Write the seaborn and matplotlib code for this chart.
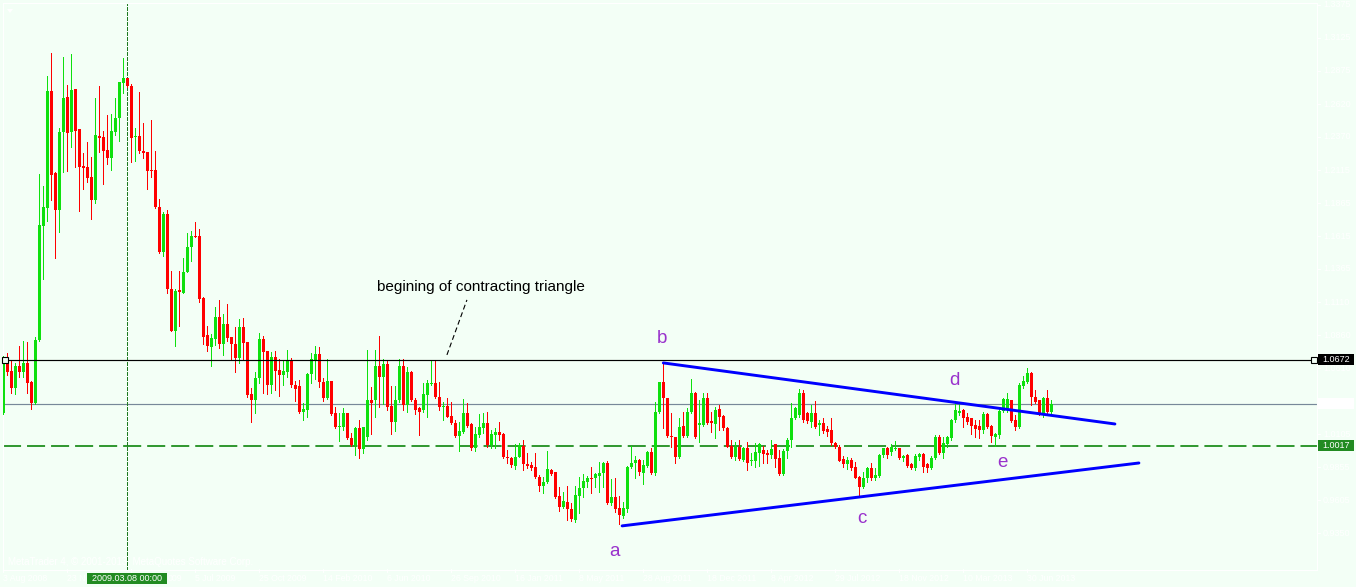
import numpy as np
import pandas as pd
import matplotlib
matplotlib.use("Agg")
import matplotlib.pyplot as plt
import matplotlib.transforms as mtransforms
from matplotlib.patches import Rectangle, Polygon
import seaborn as sns

# ---------------------------------------------------------------
# Weekly bars, first bar = week of 3 Aug 2008
# ---------------------------------------------------------------
open_ = [
    1.0268, 1.0664, 1.0587, 1.0458, 1.0626, 1.0580, 1.0649, 1.0504, 1.0344, 1.0824,
    1.1692, 1.1829, 1.2720, 1.2095, 1.1814, 1.2408, 1.2675, 1.2408, 1.2735, 1.2430,
    1.2149, 1.2142, 1.2065, 1.1890, 1.2377, 1.2370, 1.2271, 1.2210, 1.2408, 1.2514,
    1.2781, 1.2819, 1.2758, 1.2370, 1.2377, 1.2263, 1.2256, 1.2118, 1.2118, 1.1837,
    1.1494, 1.1784, 1.1212, 1.0892, 1.1205, 1.1182, 1.1342, 1.1532, 1.1616, 1.1616,
    1.1144, 1.0862, 1.0771, 1.0831, 1.0999, 1.0794, 1.0946, 1.0847, 1.0794, 1.0687,
    1.0923, 1.0809, 1.0413, 1.0367, 1.0534, 1.0831, 1.0740, 1.0481, 1.0695, 1.0595,
    1.0557, 1.0580, 1.0664, 1.0481, 1.0473, 1.0276, 1.0291, 1.0565, 1.0672, 1.0718,
    1.0504, 1.0382, 1.0511, 1.0268, 1.0162, 1.0162, 1.0268, 1.0078, 1.0024, 1.0154,
    0.9993, 1.0086, 1.0367, 1.0367, 1.0626, 1.0542, 1.0642, 1.0321, 1.0200, 1.0367,
    1.0626, 1.0329, 1.0580, 1.0367, 1.0306, 1.0291, 1.0405, 1.0489, 1.0496, 1.0390,
    1.0314, 1.0321, 1.0246, 1.0192, 1.0093, 1.0124, 1.0268, 1.0184, 1.0001, 1.0101,
    1.0154, 1.0192, 1.0024, 1.0101, 1.0124, 1.0109, 0.9933, 0.9925, 0.9864, 0.9933,
    1.0016, 0.9879, 0.9872, 0.9857, 0.9781, 0.9712, 0.9743, 0.9834, 0.9819, 0.9636,
    0.9553, 0.9591, 0.9537, 0.9453, 0.9636, 0.9697, 0.9743, 0.9773, 0.9773, 0.9788,
    0.9811, 0.9887, 0.9583, 0.9629, 0.9545, 0.9484, 0.9537, 0.9857, 0.9887, 0.9910,
    0.9811, 0.9864, 0.9971, 0.9811, 1.0276, 1.0504, 1.0382, 1.0093, 1.0086, 0.9933,
    1.0169, 1.0093, 1.0276, 1.0420, 1.0177, 1.0177, 1.0382, 1.0207, 1.0184, 1.0298,
    1.0246, 1.0154, 1.0016, 0.9933, 1.0009, 0.9910, 1.0001, 0.9902, 0.9902, 0.9963,
    0.9986, 0.9963, 0.9948, 1.0032, 0.9925, 0.9803, 0.9978, 1.0062, 1.0230, 1.0253,
    1.0420, 1.0268, 1.0200, 1.0268, 1.0177, 1.0192, 1.0146, 1.0139, 1.0039, 1.0009,
    0.9917, 0.9879, 0.9910, 0.9857, 0.9781, 0.9705, 0.9773, 0.9849, 0.9773, 0.9788,
    0.9948, 1.0001, 0.9971, 0.9993, 1.0001, 0.9925, 0.9948, 0.9879, 0.9849, 0.9933,
    0.9955, 0.9879, 0.9849, 0.9925, 1.0086, 0.9963, 1.0032, 1.0078, 1.0215, 1.0268,
    1.0291, 1.0238, 1.0230, 1.0177, 1.0169, 1.0139, 1.0261, 1.0169, 1.0086, 1.0101,
    1.0283, 1.0291, 1.0367, 1.0215, 1.0162, 1.0473, 1.0504, 1.0572, 1.0390, 1.0367,
    1.0268, 1.0382, 1.0276,
]
high = [
    1.0702, 1.0725, 1.0672, 1.0649, 1.0778, 1.0816, 1.0809, 1.0511, 1.0847, 1.2088,
    1.1996, 1.2834, 1.3009, 1.2103, 1.2438, 1.2979, 1.2766, 1.3002, 1.2735, 1.2430,
    1.2248, 1.2332, 1.2218, 1.2667, 1.2758, 1.2415, 1.2537, 1.2545, 1.2667, 1.2789,
    1.2971, 1.2819, 1.2774, 1.2438, 1.2713, 1.2476, 1.2256, 1.2499, 1.2263, 1.1897,
    1.1799, 1.1814, 1.1349, 1.1212, 1.1349, 1.1448, 1.1639, 1.1654, 1.1723, 1.1669,
    1.1152, 1.0930, 1.0870, 1.1076, 1.1129, 1.1022, 1.1099, 1.0847, 1.0923, 1.0983,
    1.0991, 1.0809, 1.0458, 1.0580, 1.0877, 1.0854, 1.0740, 1.0733, 1.0740, 1.0679,
    1.0664, 1.0748, 1.0687, 1.0511, 1.0519, 1.0344, 1.0572, 1.0725, 1.0778, 1.0771,
    1.0534, 1.0679, 1.0511, 1.0314, 1.0268, 1.0306, 1.0268, 1.0116, 1.0162, 1.0215,
    1.0162, 1.0748, 1.0466, 1.0748, 1.0854, 1.0679, 1.0672, 1.0473, 1.0473, 1.0679,
    1.0679, 1.0618, 1.0587, 1.0382, 1.0314, 1.0496, 1.0519, 1.0672, 1.0672, 1.0504,
    1.0352, 1.0382, 1.0352, 1.0215, 1.0200, 1.0374, 1.0344, 1.0192, 1.0162, 1.0261,
    1.0268, 1.0276, 1.0139, 1.0154, 1.0200, 1.0116, 0.9986, 0.9933, 1.0032, 1.0039,
    1.0062, 0.9963, 0.9895, 0.9963, 0.9796, 0.9781, 0.9978, 0.9841, 0.9819, 0.9705,
    0.9667, 0.9712, 0.9583, 0.9712, 0.9781, 0.9803, 0.9788, 0.9857, 0.9811, 0.9895,
    0.9895, 0.9902, 0.9765, 0.9773, 0.9636, 0.9591, 0.9864, 1.0016, 0.9940, 0.9917,
    0.9910, 0.9978, 1.0001, 1.0352, 1.0504, 1.0649, 1.0382, 1.0268, 1.0086, 1.0230,
    1.0276, 1.0306, 1.0526, 1.0428, 1.0367, 1.0420, 1.0420, 1.0276, 1.0314, 1.0329,
    1.0253, 1.0162, 1.0062, 1.0047, 1.0062, 1.0009, 1.0047, 0.9963, 1.0039, 1.0039,
    1.0016, 0.9986, 1.0062, 1.0032, 0.9986, 0.9993, 1.0078, 1.0344, 1.0314, 1.0450,
    1.0443, 1.0276, 1.0329, 1.0359, 1.0215, 1.0230, 1.0169, 1.0230, 1.0047, 1.0024,
    0.9940, 0.9933, 0.9925, 0.9895, 0.9788, 0.9819, 0.9857, 0.9887, 0.9849, 0.9955,
    1.0001, 1.0009, 1.0032, 1.0054, 1.0001, 0.9948, 0.9955, 0.9887, 0.9955, 0.9963,
    0.9963, 0.9887, 0.9940, 1.0101, 1.0101, 1.0086, 1.0093, 1.0223, 1.0344, 1.0352,
    1.0298, 1.0268, 1.0230, 1.0215, 1.0215, 1.0276, 1.0268, 1.0177, 1.0116, 1.0298,
    1.0382, 1.0420, 1.0367, 1.0253, 1.0496, 1.0549, 1.0610, 1.0580, 1.0443, 1.0367,
    1.0390, 1.0443, 1.0367,
]
low = [
    1.0261, 1.0557, 1.0420, 1.0413, 1.0542, 1.0542, 1.0420, 1.0298, 1.0336, 1.0816,
    1.1288, 1.1730, 1.1890, 1.1448, 1.1647, 1.2103, 1.2110, 1.2294, 1.2142, 1.1806,
    1.1973, 1.2027, 1.1745, 1.1867, 1.2256, 1.2012, 1.2165, 1.2118, 1.2385, 1.2339,
    1.2705, 1.2751, 1.2180, 1.2187, 1.2248, 1.2210, 1.1973, 1.2065, 1.1829, 1.1486,
    1.1463, 1.1182, 1.0892, 1.0778, 1.0930, 1.1182, 1.1342, 1.1425, 1.1608, 1.1114,
    1.0794, 1.0740, 1.0626, 1.0786, 1.0763, 1.0710, 1.0816, 1.0672, 1.0580, 1.0649,
    1.0679, 1.0390, 1.0200, 1.0268, 1.0496, 1.0420, 1.0413, 1.0420, 1.0443, 1.0397,
    1.0481, 1.0542, 1.0466, 1.0359, 1.0268, 1.0215, 1.0238, 1.0496, 1.0526, 1.0466,
    1.0359, 1.0374, 1.0253, 1.0154, 1.0054, 1.0139, 1.0070, 1.0016, 0.9948, 0.9925,
    0.9963, 1.0062, 1.0109, 1.0238, 1.0314, 1.0336, 1.0291, 1.0109, 1.0131, 1.0352,
    1.0291, 1.0276, 1.0359, 1.0261, 1.0101, 1.0276, 1.0238, 1.0481, 1.0382, 1.0291,
    1.0215, 1.0238, 1.0184, 1.0086, 0.9978, 1.0116, 1.0162, 0.9986, 0.9978, 1.0086,
    1.0116, 1.0009, 1.0001, 1.0001, 1.0062, 0.9925, 0.9887, 0.9857, 0.9841, 0.9933,
    0.9834, 0.9849, 0.9834, 0.9773, 0.9674, 0.9659, 0.9735, 0.9796, 0.9621, 0.9521,
    0.9545, 0.9453, 0.9445, 0.9438, 0.9506, 0.9629, 0.9705, 0.9659, 0.9705, 0.9667,
    0.9705, 0.9575, 0.9568, 0.9514, 0.9423, 0.9468, 0.9514, 0.9849, 0.9773, 0.9796,
    0.9727, 0.9857, 0.9803, 0.9796, 1.0268, 1.0154, 1.0086, 1.0009, 0.9887, 0.9925,
    1.0086, 1.0086, 1.0268, 1.0078, 1.0047, 1.0169, 1.0184, 1.0124, 1.0078, 1.0139,
    1.0139, 1.0009, 0.9925, 0.9910, 0.9910, 0.9902, 0.9834, 0.9872, 0.9857, 0.9864,
    0.9887, 0.9887, 0.9925, 0.9857, 0.9796, 0.9796, 0.9925, 1.0009, 1.0223, 1.0238,
    1.0200, 1.0192, 1.0162, 1.0154, 1.0101, 1.0116, 1.0093, 1.0024, 1.0001, 0.9902,
    0.9857, 0.9841, 0.9834, 0.9773, 0.9629, 0.9697, 0.9743, 0.9758, 0.9758, 0.9781,
    0.9933, 0.9925, 0.9948, 0.9986, 0.9917, 0.9902, 0.9857, 0.9841, 0.9834, 0.9910,
    0.9819, 0.9819, 0.9841, 0.9917, 0.9955, 0.9925, 1.0009, 1.0062, 1.0200, 1.0253,
    1.0162, 1.0184, 1.0109, 1.0086, 1.0078, 1.0116, 1.0154, 1.0047, 1.0016, 1.0078,
    1.0276, 1.0276, 1.0200, 1.0139, 1.0154, 1.0458, 1.0496, 1.0329, 1.0344, 1.0253,
    1.0238, 1.0268, 1.0268,
]
close = [
    1.0687, 1.0580, 1.0458, 1.0626, 1.0580, 1.0649, 1.0496, 1.0344, 1.0824, 1.1700,
    1.1837, 1.2720, 1.2080, 1.1814, 1.2408, 1.2667, 1.2400, 1.2728, 1.2415, 1.2142,
    1.2134, 1.2057, 1.1890, 1.2385, 1.2362, 1.2263, 1.2210, 1.2415, 1.2514, 1.2789,
    1.2819, 1.2758, 1.2362, 1.2377, 1.2263, 1.2248, 1.2110, 1.2110, 1.1837, 1.1494,
    1.1784, 1.1212, 1.0892, 1.1197, 1.1190, 1.1342, 1.1532, 1.1616, 1.1608, 1.1136,
    1.0847, 1.0778, 1.0839, 1.0999, 1.0794, 1.0946, 1.0839, 1.0794, 1.0687, 1.0923,
    1.0801, 1.0405, 1.0367, 1.0534, 1.0831, 1.0733, 1.0481, 1.0695, 1.0587, 1.0557,
    1.0587, 1.0664, 1.0481, 1.0450, 1.0276, 1.0298, 1.0565, 1.0679, 1.0718, 1.0504,
    1.0382, 1.0511, 1.0261, 1.0162, 1.0169, 1.0268, 1.0078, 1.0024, 1.0154, 0.9993,
    1.0162, 1.0367, 1.0344, 1.0626, 1.0542, 1.0642, 1.0314, 1.0200, 1.0367, 1.0626,
    1.0329, 1.0580, 1.0367, 1.0291, 1.0276, 1.0413, 1.0496, 1.0496, 1.0390, 1.0314,
    1.0321, 1.0238, 1.0192, 1.0093, 1.0131, 1.0268, 1.0169, 1.0001, 1.0109, 1.0162,
    1.0192, 1.0024, 1.0109, 1.0124, 1.0101, 0.9933, 0.9925, 0.9872, 0.9933, 1.0024,
    0.9879, 0.9864, 0.9849, 0.9781, 0.9712, 0.9743, 0.9841, 0.9803, 0.9629, 0.9553,
    0.9598, 0.9537, 0.9461, 0.9644, 0.9697, 0.9750, 0.9773, 0.9765, 0.9803, 0.9811,
    0.9887, 0.9583, 0.9629, 0.9537, 0.9491, 0.9545, 0.9857, 0.9887, 0.9910, 0.9819,
    0.9872, 0.9971, 0.9811, 1.0276, 1.0504, 1.0382, 1.0093, 1.0086, 0.9933, 1.0162,
    1.0093, 1.0276, 1.0420, 1.0086, 1.0192, 1.0382, 1.0192, 1.0192, 1.0291, 1.0238,
    1.0154, 1.0009, 0.9933, 1.0009, 0.9917, 1.0001, 0.9887, 0.9910, 0.9971, 1.0032,
    0.9955, 0.9948, 0.9993, 0.9917, 0.9803, 0.9978, 1.0062, 1.0230, 1.0306, 1.0420,
    1.0215, 1.0207, 1.0268, 1.0162, 1.0192, 1.0131, 1.0124, 1.0039, 1.0009, 0.9902,
    0.9879, 0.9910, 0.9849, 0.9773, 0.9705, 0.9773, 0.9849, 0.9773, 0.9796, 0.9948,
    1.0001, 0.9948, 1.0009, 1.0001, 0.9925, 0.9940, 0.9864, 0.9849, 0.9940, 0.9955,
    0.9857, 0.9849, 0.9925, 1.0086, 0.9963, 1.0039, 1.0086, 1.0215, 1.0291, 1.0283,
    1.0230, 1.0200, 1.0169, 1.0146, 1.0139, 1.0261, 1.0162, 1.0093, 1.0109, 1.0283,
    1.0374, 1.0374, 1.0207, 1.0162, 1.0481, 1.0511, 1.0572, 1.0390, 1.0352, 1.0268,
    1.0382, 1.0276, 1.0336,
]

# time-scale labels (every 16th bar; the two under the cursor tag are cut by it)
date_bars = [0, 16, 32, 48, 64, 80, 96, 112, 128, 144, 160, 176, 192, 208, 224, 240, 256]
date_labels = ["3 Aug 2008", "23 N", "009", "5 Jul 2009", "25 Oct 2009",
               "14 Feb 2010", "6 Jun 2010", "26 Sep 2010", "16 Jan 2011", "8 May 2011",
               "28 Aug 2011", "18 Dec 2011", "8 Apr 2012", "29 Jul 2012", "18 Nov 2012",
               "10 Mar 2013", "30 Jun 2013"]
date_shift = [0, 0, 9.3, 0, 0, 0, 0, 0, 0, 0, 0, 0, 0, 0, 0, 0, 0]
cursor_bar = 31
cursor_label = "2009.03.08 00:00"

# price scale
price_ticks = [1.3375, 1.3125, 1.2875, 1.2620, 1.2370, 1.2115, 1.1865, 1.1615, 1.1365,
               1.1110, 1.0860, 1.0610, 1.0355, 1.0105, 0.9855, 0.9605, 0.9350]

# horizontal levels
resistance = 1.0672
midline = 1.0337
support = 1.0017

# contracting triangle sides (bar, price)
upper_bars = [165.0, 277.9]
upper_prices = [1.0649, 1.0184]
lower_bars = [154.7, 283.9]
lower_prices = [0.9408, 0.9887]

# wave labels
wave_names = ["a", "b", "c", "d", "e"]
wave_bars = [152.9, 164.7, 214.7, 237.7, 249.7]
wave_prices = [0.9179, 1.0801, 0.9430, 1.0481, 0.9857]

note_text = "begining of contracting triangle"
note_bar, note_price = 93.4, 1.1197
pointer_bars = [110.9, 115.9]
pointer_prices = [1.0710, 1.1129]

# ---------------------------------------------------------------
BG = "#F3FFF6"
UP = "#0EE00E"
DOWN = "#FF0000"
W, H = 1356, 587

sns.set_theme(style="white", rc={"axes.facecolor": BG, "figure.facecolor": BG})
plt.rcParams["font.family"] = ["Liberation Sans", "DejaVu Sans"]
plt.rcParams["lines.scale_dashes"] = False

fig = plt.figure(figsize=(W / 100, H / 100), dpi=100)
fig.patch.set_facecolor(BG)
ax = fig.add_axes([3 / W, 1 - 570 / H, 1314 / W, 567 / H])
ax.set_facecolor(BG)

bars = pd.DataFrame({"open": open_, "high": high, "low": low, "close": close})
bars["bar"] = np.arange(len(bars))
is_up = bars["close"] >= bars["open"]
colors = np.where(is_up, UP, DOWN)

# levels and cursor behind the candles
ax.axhline(midline, color="#778899", lw=0.85, zorder=1)
ax.axhline(support, color="#1F8F1F", lw=1.3, dashes=(13, 4.3), zorder=1)
ax.axvline(cursor_bar, color="#1F7A1F", lw=1.0, dashes=(2.2, 1.4), zorder=1,
           antialiased=False)

# candles: 1 px wicks then 3 px bodies
ax.vlines(bars["bar"], bars["low"], bars["high"], colors=colors, linewidth=0.72,
          antialiased=False, zorder=3)
body_bottom = np.minimum(bars["open"], bars["close"])
body_height = np.maximum((bars["close"] - bars["open"]).abs(), 0.0009)
ax.bar(bars["bar"], body_height, bottom=body_bottom, width=0.72, color=colors,
       linewidth=0, antialiased=False, zorder=4)

# resistance line with end handles
ax.plot([0.5, 327.7], [resistance, resistance], color="black", lw=0.85, zorder=5)
ax.plot([0.5, 327.7], [resistance, resistance], ls="none", marker="s", ms=3.8,
        mfc=BG, mec="black", mew=0.8, zorder=6, clip_on=False)

# triangle sides
tri = pd.DataFrame({
    "bar": upper_bars + lower_bars,
    "price": upper_prices + lower_prices,
    "side": ["upper", "upper", "lower", "lower"],
})
sns.lineplot(data=tri, x="bar", y="price", units="side", estimator=None,
             color="#0000FF", lw=2.1, ax=ax, legend=False, zorder=7)

# wave labels
for name, xb, yp in zip(wave_names, wave_bars, wave_prices):
    ax.text(xb, yp, name, color="#9932CC", fontsize=13.5, ha="center", va="baseline", zorder=8)

# note and its pointer
ax.text(note_bar, note_price, note_text, color="black", fontsize=11.0,
        ha="left", va="baseline", zorder=8)
ax.plot(pointer_bars, pointer_prices, color="black", lw=0.8, dashes=(3.6, 2.2), zorder=8)

ax.set_xlim(-0.0825, 328.42)
ax.set_ylim(0.9072, 1.3390)
ax.set_xticks([])
ax.set_yticks([])
ax.set_xlabel("")
ax.set_ylabel("")
for s in ax.spines.values():
    s.set_color("white")
    s.set_linewidth(0.8)
    s.set_visible(True)

# price scale on the right
ytrans = mtransforms.blended_transform_factory(fig.transFigure, ax.transData)
for p in price_ticks:
    ax.plot([1317 / W, 1320 / W], [p, p], transform=ytrans, color="white", lw=0.8,
            clip_on=False, zorder=2)
    ax.text(1323 / W, p, f"{p:.4f}", transform=ytrans, color="white", fontsize=6.5,
            ha="left", va="center", clip_on=False, zorder=2)

half = 5.5 * 0.0007615
for level, face, txt in [(resistance, "black", "white"),
                         (midline, "white", "white"),
                         (support, "#228B22", "white")]:
    ax.add_patch(Rectangle((1318 / W, level - half), 36 / W, 2 * half, transform=ytrans,
                           facecolor=face, edgecolor="none", clip_on=False, zorder=9))
    ax.text(1336 / W, level, f"{level:.4f}", transform=ytrans, color=txt, fontsize=6.5,
            ha="center", va="center", clip_on=False, zorder=10)

# time scale along the bottom
xtrans = mtransforms.blended_transform_factory(ax.transData, fig.transFigure)
for b, lab, dx in zip(date_bars, date_labels, date_shift):
    ax.plot([b, b], [1 - 569 / H, 1 - 572 / H], transform=xtrans, color="white", lw=0.8,
            clip_on=False, zorder=2)
    ax.text(b - 0.2 + dx, 1 - 581 / H, lab, transform=xtrans, color="white", fontsize=6.3,
            ha="left", va="baseline", clip_on=False, zorder=2)
ax.add_patch(Rectangle((cursor_bar - 10.0, 1 - 584 / H), 20.0, 11 / H, transform=xtrans,
                       facecolor="#228B22", edgecolor="none", clip_on=False, zorder=9))
ax.text(cursor_bar, 1 - 578.5 / H, cursor_label, transform=xtrans, color="white",
        fontsize=6.5, ha="center", va="center", clip_on=False, zorder=10)

# terminal caption and chart-menu marker
fig.text(8 / W, 1 - 565 / H, "MetaTrader 4, \u00a9 2001-2013, MetaQuotes Software Corp.",
         color="white", fontsize=7.0, ha="left", va="baseline")
fig.add_artist(Polygon([[7 / W, 1 - 9 / H], [13 / W, 1 - 9 / H], [10 / W, 1 - 13 / H]],
                       closed=True, transform=fig.transFigure, facecolor="white",
                       edgecolor="none"))

fig.savefig("out.png", dpi=100, facecolor=BG)
